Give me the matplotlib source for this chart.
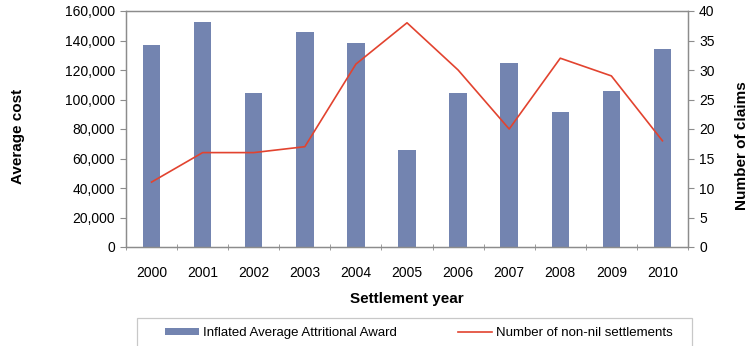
import matplotlib.pyplot as plt
import numpy as np
from matplotlib.patches import Rectangle
from matplotlib.ticker import FuncFormatter, MultipleLocator

# Series
YEARS = ["2000", "2001", "2002", "2003", "2004", "2005",
         "2006", "2007", "2008", "2009", "2010"]
AVG_AWARD = [137000, 152700, 104600, 145500, 138500, 65800,
             104600, 124500, 91700, 105800, 134000]
NON_NIL = [11, 16, 16, 17, 31, 38, 30, 20, 32, 29, 18]

BAR_COLOR = "#7384B0"
LINE_COLOR = "#E2432F"
SPINE_COLOR = "#8C8C8C"

W, H = 751, 346
plt.rcParams['font.family'] = ['Liberation Sans', 'DejaVu Sans']

fig = plt.figure(figsize=(W / 100, H / 100), dpi=100)
ax = fig.add_axes([126 / W, 1 - 247 / H, 562 / W, 236 / H])
ax2 = ax.twinx()

x = np.arange(len(YEARS))
bars = ax.bar(x, AVG_AWARD, width=0.34, color=BAR_COLOR, zorder=2)
line, = ax2.plot(x, NON_NIL, color=LINE_COLOR, lw=1.2)

ax.set_xlim(-0.5, len(YEARS) - 0.5)
ax.set_ylim(0, 160000)
ax2.set_ylim(0, 40)
ax.yaxis.set_major_locator(MultipleLocator(20000))
ax.yaxis.set_major_formatter(FuncFormatter(lambda v, p: f"{int(v):,}"))
ax2.yaxis.set_major_locator(MultipleLocator(5))

ax.set_xticks(x)
ax.set_xticklabels(YEARS)
# boundary ticks between categories
ax.set_xticks(np.arange(-0.5, len(YEARS), 1), minor=True)
ax.tick_params(axis='x', which='major', length=0, pad=14, labelsize=10)
ax.tick_params(axis='x', which='minor', length=4, direction='inout',
               color=SPINE_COLOR)
ax.tick_params(axis='y', length=4, color=SPINE_COLOR, labelsize=10, pad=4)
ax2.tick_params(axis='y', length=4, color=SPINE_COLOR, labelsize=10, pad=4)

for a in (ax, ax2):
    for s in a.spines.values():
        s.set_color(SPINE_COLOR)
        s.set_linewidth(0.9)

ax.set_ylabel("Average cost", fontweight='bold', fontsize=11)
ax.yaxis.set_label_coords((25 - 126) / 562, 0.47)
ax2.set_ylabel("Number of claims", fontweight='bold', fontsize=11)
ax2.yaxis.set_label_coords((735 - 126) / 562, 0.43)
ax.set_xlabel("Settlement year", fontweight='bold', fontsize=11, labelpad=8)

# legend box runs off the bottom edge
fig.patches.append(Rectangle((137 / W, -0.05), (692 - 137) / W, 0.05 + (H - 318) / H,
                             transform=fig.transFigure, fill=False,
                             edgecolor="#C8C8C8", lw=0.9))
fig.legend([bars, line],
           ["Inflated Average Attritional Award", "Number of non-nil settlements"],
           loc='center left', bbox_to_anchor=(165 / W, (H - 333) / H),
           ncol=2, fontsize=9.5, frameon=False, borderpad=0, borderaxespad=0,
           handlelength=2.6, handleheight=0.5, handletextpad=0.3, columnspacing=4.6)

fig.savefig("out.png", dpi=100)
